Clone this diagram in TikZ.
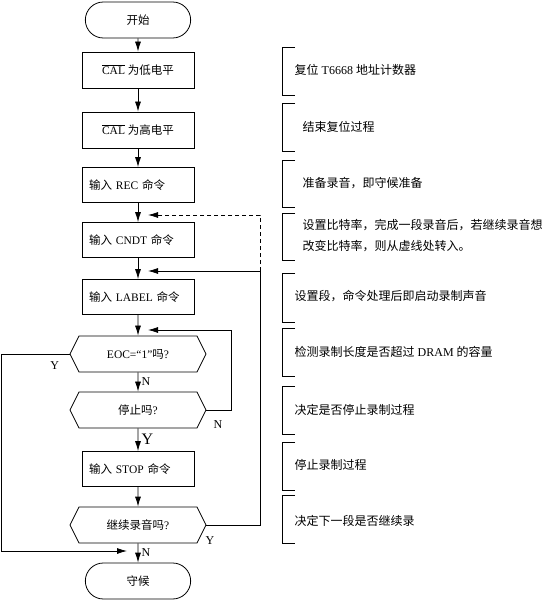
\documentclass[tikz,border=0pt]{standalone}
\usepackage{fontspec}
\setmainfont{Liberation Serif}
\newfontfamily\cjk{Noto Sans CJK SC}
\newcommand{\zh}[1]{{\cjk #1}}
\usetikzlibrary{arrows.meta,shapes.misc,shapes.symbols}

\begin{document}
\begin{tikzpicture}[x=1pt, y=-1pt, line width=0.8pt, font=\fontsize{11.5}{15}\selectfont,
  term/.style={draw, rounded rectangle, minimum width=112pt, minimum height=36pt},
  proc/.style={draw, rectangle, minimum width=112pt, minimum height=36pt},
  cmd/.style={draw, rectangle, text width=98pt, inner xsep=7pt, minimum height=35pt, align=left},
  dec/.style={draw, signal, signal to=west and east, signal pointer angle=127, minimum width=136pt, minimum height=36pt},
  flow/.style={-{Latex[length=10pt,width=6pt]}},
  note/.style={anchor=west, align=left, font=\fontsize{12}{21}\selectfont},
  yn/.style={font=\fontsize{12}{14}\selectfont}]
  \useasboundingbox (0,0) rectangle (548,601);

  % flow chart
  \node[term] (start) at (138,20) {\zh{开始}};
  \node[proc] (cal1) at (138,70) {$\overline{\hbox{CAL}}$ \zh{为低电平}};
  \node[proc] (cal2) at (138,130) {$\overline{\hbox{CAL}}$ \zh{为高电平}};
  \node[cmd] (rec) at (138,185) {\zh{输入} REC \zh{命令}};
  \node[cmd] (cndt) at (138,240) {\zh{输入} CNDT \zh{命令}};
  \node[cmd] (lbl) at (138,297) {\zh{输入} LABEL \zh{命令}};
  \node[dec] (eoc) at (138,354) {EOC=“1”\zh{吗}?};
  \node[dec] (stopq) at (138,410) {\zh{停止吗}?};
  \node[cmd] (stop) at (138,469) {\zh{输入} STOP \zh{命令}};
  \node[dec] (cont) at (138,525) {\zh{继续录音吗}?};
  \node[term] (wait) at (138,581) {\zh{守候}};

  \coordinate (jcn) at (138,215); % dashed entry
  \coordinate (jlb) at (138,271); % next segment entry
  \coordinate (jeo) at (138,330); % stop loop entry
  \coordinate (jwt) at (138,551); % overflow entry
  \coordinate (rail) at (260,271);

  \draw[flow] (start) -- (cal1);
  \draw[flow] (cal1) -- (cal2);
  \draw[flow] (cal2) -- (rec);
  \draw[flow] (rec) -- (cndt);
  \draw[flow] (cndt) -- (lbl);
  \draw[flow] (lbl) -- (eoc);
  \draw[flow] (eoc) -- node[right, yn] {N} (stopq);
  \draw[flow] (stopq) -- node[right, font=\fontsize{16}{18}\selectfont] {Y} (stop);
  \draw[flow] (stop) -- (cont);
  \draw[flow] (cont) -- node[right, yn] {N} (wait);

  % loops
  \draw[flow, shorten >=10pt] (stopq.east) -- ++(25,0) |- (jeo);
  \node[yn] at (218,425) {N};
  \draw[flow, shorten >=10pt] (cont.east) -- ++(54,0) |- (jlb);
  \node[yn] at (210,541) {Y};
  \draw[flow, dash pattern=on 4pt off 3pt, shorten >=10pt] (rail) |- (jcn);
  \draw[flow, shorten >=11pt] (eoc.west) -- node[pos=.22, below=4pt, yn] {Y} ++(-68,0) |- (jwt);

  % notes
  \draw (295,47) -- (282,47) -- (282,95) -- (295,95);
  \node[note] (n1) at (291,70) {\zh{复位} T6668 \zh{地址计数器}};
  \draw (295,103) -- (282,103) -- (282,151) -- (295,151);
  \node[note] (n2) at (299,127) {\zh{结束复位过程}};
  \draw (295,160) -- (282,160) -- (282,207) -- (295,207);
  \node[note] (n3) at (299,183) {\zh{准备录音，即守候准备}};
  \draw (295,213) -- (282,213) -- (282,260) -- (295,260);
  \node[note] (n4) at (299,236) {\zh{设置比特率，完成一段录音后，若继续录音想}\\\zh{改变比特率，则从虚线处转入。}};
  \draw (295,273) -- (282,273) -- (282,322) -- (295,322);
  \node[note] (n5) at (291,296) {\zh{设置段，命令处理后即启动录制声音}};
  \draw (295,328) -- (282,328) -- (282,376) -- (295,376);
  \node[note] (n6) at (291,352) {\zh{检测录制长度是否超过} DRAM \zh{的容量}};
  \draw (295,386) -- (282,386) -- (282,434) -- (295,434);
  \node[note] (n7) at (291,410) {\zh{决定是否停止录制过程}};
  \draw (295,442) -- (282,442) -- (282,490) -- (295,490);
  \node[note] (n8) at (291,465) {\zh{停止录制过程}};
  \draw (295,495) -- (282,495) -- (282,543) -- (295,543);
  \node[note] (n9) at (291,521) {\zh{决定下一段是否继续录}};
\end{tikzpicture}
\end{document}
